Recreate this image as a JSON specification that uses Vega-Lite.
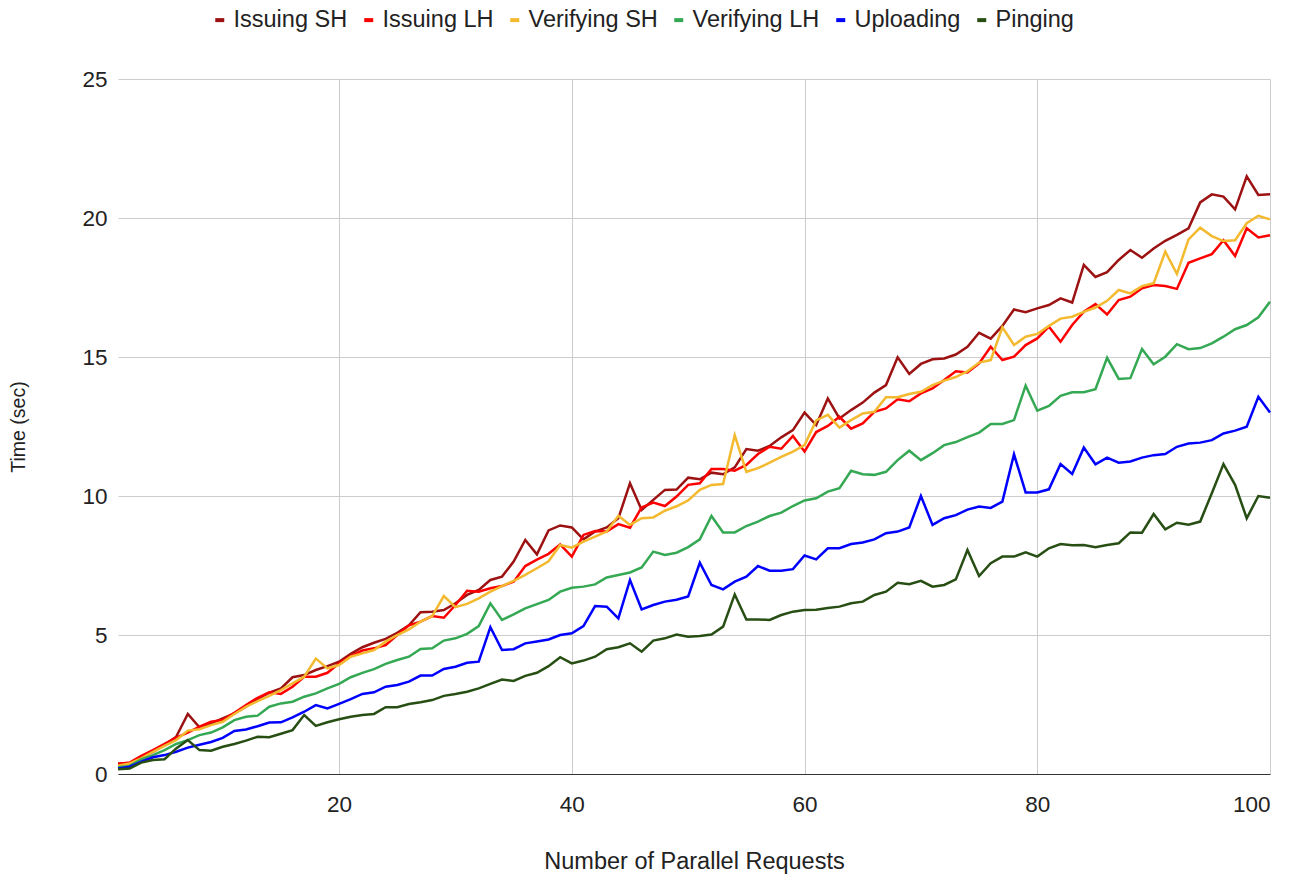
{"$schema":"https://vega.github.io/schema/vega-lite/v6.json","width":1152,"height":695,"autosize":{"type":"none"},"padding":{"left":118,"top":79,"right":30,"bottom":101},"background":"white","config":{"view":{"stroke":null},"font":"Liberation Sans"},
"data":{"values":[
{"x":1,"Issuing SH":0.38,"Issuing LH":0.36,"Verifying SH":0.3,"Verifying LH":0.24,"Uploading":0.2,"Pinging":0.17},
{"x":2,"Issuing SH":0.38,"Issuing LH":0.41,"Verifying SH":0.38,"Verifying LH":0.29,"Uploading":0.26,"Pinging":0.2},
{"x":3,"Issuing SH":0.62,"Issuing LH":0.65,"Verifying SH":0.56,"Verifying LH":0.53,"Uploading":0.44,"Pinging":0.41},
{"x":4,"Issuing SH":0.8,"Issuing LH":0.86,"Verifying SH":0.8,"Verifying LH":0.68,"Uploading":0.6,"Pinging":0.5},
{"x":5,"Issuing SH":1.04,"Issuing LH":1.08,"Verifying SH":1.01,"Verifying LH":0.86,"Uploading":0.68,"Pinging":0.53},
{"x":6,"Issuing SH":1.34,"Issuing LH":1.31,"Verifying SH":1.22,"Verifying LH":1.08,"Uploading":0.8,"Pinging":0.92},
{"x":7,"Issuing SH":2.16,"Issuing LH":1.49,"Verifying SH":1.56,"Verifying LH":1.22,"Uploading":0.95,"Pinging":1.22},
{"x":8,"Issuing SH":1.68,"Issuing LH":1.7,"Verifying SH":1.61,"Verifying LH":1.4,"Uploading":1.05,"Pinging":0.86},
{"x":9,"Issuing SH":1.82,"Issuing LH":1.88,"Verifying SH":1.76,"Verifying LH":1.49,"Uploading":1.15,"Pinging":0.84},
{"x":10,"Issuing SH":2.0,"Issuing LH":1.94,"Verifying SH":1.88,"Verifying LH":1.68,"Uploading":1.3,"Pinging":0.98},
{"x":11,"Issuing SH":2.18,"Issuing LH":2.2,"Verifying SH":2.16,"Verifying LH":1.94,"Uploading":1.55,"Pinging":1.08},
{"x":12,"Issuing SH":2.42,"Issuing LH":2.48,"Verifying SH":2.42,"Verifying LH":2.06,"Uploading":1.6,"Pinging":1.2},
{"x":13,"Issuing SH":2.7,"Issuing LH":2.74,"Verifying SH":2.62,"Verifying LH":2.1,"Uploading":1.72,"Pinging":1.34},
{"x":14,"Issuing SH":2.93,"Issuing LH":2.94,"Verifying SH":2.81,"Verifying LH":2.42,"Uploading":1.85,"Pinging":1.32},
{"x":15,"Issuing SH":3.08,"Issuing LH":2.88,"Verifying SH":3.02,"Verifying LH":2.54,"Uploading":1.86,"Pinging":1.45},
{"x":16,"Issuing SH":3.48,"Issuing LH":3.14,"Verifying SH":3.26,"Verifying LH":2.6,"Uploading":2.04,"Pinging":1.58},
{"x":17,"Issuing SH":3.56,"Issuing LH":3.5,"Verifying SH":3.5,"Verifying LH":2.78,"Uploading":2.24,"Pinging":2.12},
{"x":18,"Issuing SH":3.74,"Issuing LH":3.5,"Verifying SH":4.15,"Verifying LH":2.9,"Uploading":2.48,"Pinging":1.73},
{"x":19,"Issuing SH":3.88,"Issuing LH":3.64,"Verifying SH":3.8,"Verifying LH":3.08,"Uploading":2.36,"Pinging":1.86},
{"x":20,"Issuing SH":4.04,"Issuing LH":3.98,"Verifying SH":3.92,"Verifying LH":3.24,"Uploading":2.52,"Pinging":1.97},
{"x":21,"Issuing SH":4.32,"Issuing LH":4.24,"Verifying SH":4.22,"Verifying LH":3.48,"Uploading":2.69,"Pinging":2.06},
{"x":22,"Issuing SH":4.56,"Issuing LH":4.44,"Verifying SH":4.34,"Verifying LH":3.64,"Uploading":2.88,"Pinging":2.12},
{"x":23,"Issuing SH":4.72,"Issuing LH":4.52,"Verifying SH":4.46,"Verifying LH":3.77,"Uploading":2.94,"Pinging":2.16},
{"x":24,"Issuing SH":4.86,"Issuing LH":4.64,"Verifying SH":4.76,"Verifying LH":3.96,"Uploading":3.14,"Pinging":2.4},
{"x":25,"Issuing SH":5.08,"Issuing LH":5.0,"Verifying SH":5.0,"Verifying LH":4.1,"Uploading":3.2,"Pinging":2.4},
{"x":26,"Issuing SH":5.35,"Issuing LH":5.35,"Verifying SH":5.2,"Verifying LH":4.22,"Uploading":3.32,"Pinging":2.52},
{"x":27,"Issuing SH":5.82,"Issuing LH":5.48,"Verifying SH":5.48,"Verifying LH":4.5,"Uploading":3.54,"Pinging":2.58},
{"x":28,"Issuing SH":5.84,"Issuing LH":5.68,"Verifying SH":5.68,"Verifying LH":4.52,"Uploading":3.54,"Pinging":2.66},
{"x":29,"Issuing SH":5.9,"Issuing LH":5.62,"Verifying SH":6.4,"Verifying LH":4.8,"Uploading":3.78,"Pinging":2.81},
{"x":30,"Issuing SH":6.14,"Issuing LH":6.08,"Verifying SH":6.0,"Verifying LH":4.88,"Uploading":3.86,"Pinging":2.88},
{"x":31,"Issuing SH":6.44,"Issuing LH":6.59,"Verifying SH":6.12,"Verifying LH":5.04,"Uploading":4.0,"Pinging":2.96},
{"x":32,"Issuing SH":6.62,"Issuing LH":6.56,"Verifying SH":6.32,"Verifying LH":5.32,"Uploading":4.04,"Pinging":3.08},
{"x":33,"Issuing SH":6.98,"Issuing LH":6.68,"Verifying SH":6.56,"Verifying LH":6.14,"Uploading":5.28,"Pinging":3.24},
{"x":34,"Issuing SH":7.1,"Issuing LH":6.76,"Verifying SH":6.76,"Verifying LH":5.54,"Uploading":4.46,"Pinging":3.4},
{"x":35,"Issuing SH":7.64,"Issuing LH":6.92,"Verifying SH":6.95,"Verifying LH":5.74,"Uploading":4.49,"Pinging":3.35},
{"x":36,"Issuing SH":8.42,"Issuing LH":7.48,"Verifying SH":7.16,"Verifying LH":5.96,"Uploading":4.7,"Pinging":3.53},
{"x":37,"Issuing SH":7.9,"Issuing LH":7.71,"Verifying SH":7.4,"Verifying LH":6.11,"Uploading":4.77,"Pinging":3.64},
{"x":38,"Issuing SH":8.76,"Issuing LH":7.92,"Verifying SH":7.65,"Verifying LH":6.26,"Uploading":4.84,"Pinging":3.88},
{"x":39,"Issuing SH":8.94,"Issuing LH":8.26,"Verifying SH":8.24,"Verifying LH":6.56,"Uploading":5.0,"Pinging":4.2},
{"x":40,"Issuing SH":8.87,"Issuing LH":7.82,"Verifying SH":8.14,"Verifying LH":6.7,"Uploading":5.06,"Pinging":3.98},
{"x":41,"Issuing SH":8.44,"Issuing LH":8.6,"Verifying SH":8.36,"Verifying LH":6.74,"Uploading":5.32,"Pinging":4.08},
{"x":42,"Issuing SH":8.72,"Issuing LH":8.74,"Verifying SH":8.54,"Verifying LH":6.82,"Uploading":6.04,"Pinging":4.22},
{"x":43,"Issuing SH":8.87,"Issuing LH":8.72,"Verifying SH":8.72,"Verifying LH":7.07,"Uploading":6.02,"Pinging":4.49},
{"x":44,"Issuing SH":9.2,"Issuing LH":8.99,"Verifying SH":9.29,"Verifying LH":7.16,"Uploading":5.6,"Pinging":4.56},
{"x":45,"Issuing SH":10.46,"Issuing LH":8.86,"Verifying SH":8.96,"Verifying LH":7.25,"Uploading":6.98,"Pinging":4.7},
{"x":46,"Issuing SH":9.5,"Issuing LH":9.59,"Verifying SH":9.2,"Verifying LH":7.43,"Uploading":5.92,"Pinging":4.4},
{"x":47,"Issuing SH":9.86,"Issuing LH":9.76,"Verifying SH":9.23,"Verifying LH":8.0,"Uploading":6.08,"Pinging":4.8},
{"x":48,"Issuing SH":10.22,"Issuing LH":9.64,"Verifying SH":9.47,"Verifying LH":7.88,"Uploading":6.2,"Pinging":4.88},
{"x":49,"Issuing SH":10.23,"Issuing LH":9.98,"Verifying SH":9.63,"Verifying LH":7.96,"Uploading":6.27,"Pinging":5.02},
{"x":50,"Issuing SH":10.66,"Issuing LH":10.4,"Verifying SH":9.84,"Verifying LH":8.16,"Uploading":6.39,"Pinging":4.94},
{"x":51,"Issuing SH":10.6,"Issuing LH":10.46,"Verifying SH":10.22,"Verifying LH":8.44,"Uploading":7.6,"Pinging":4.96},
{"x":52,"Issuing SH":10.84,"Issuing LH":10.97,"Verifying SH":10.4,"Verifying LH":9.28,"Uploading":6.8,"Pinging":5.02},
{"x":53,"Issuing SH":10.78,"Issuing LH":10.97,"Verifying SH":10.43,"Verifying LH":8.69,"Uploading":6.64,"Pinging":5.3},
{"x":54,"Issuing SH":11.03,"Issuing LH":10.91,"Verifying SH":12.19,"Verifying LH":8.69,"Uploading":6.92,"Pinging":6.46},
{"x":55,"Issuing SH":11.69,"Issuing LH":11.12,"Verifying SH":10.87,"Verifying LH":8.92,"Uploading":7.1,"Pinging":5.56},
{"x":56,"Issuing SH":11.63,"Issuing LH":11.51,"Verifying SH":11.0,"Verifying LH":9.08,"Uploading":7.48,"Pinging":5.56},
{"x":57,"Issuing SH":11.8,"Issuing LH":11.77,"Verifying SH":11.2,"Verifying LH":9.28,"Uploading":7.31,"Pinging":5.54},
{"x":58,"Issuing SH":12.11,"Issuing LH":11.7,"Verifying SH":11.41,"Verifying LH":9.4,"Uploading":7.31,"Pinging":5.72},
{"x":59,"Issuing SH":12.37,"Issuing LH":12.16,"Verifying SH":11.6,"Verifying LH":9.64,"Uploading":7.37,"Pinging":5.84},
{"x":60,"Issuing SH":13.0,"Issuing LH":11.6,"Verifying SH":11.83,"Verifying LH":9.84,"Uploading":7.86,"Pinging":5.9},
{"x":61,"Issuing SH":12.55,"Issuing LH":12.3,"Verifying SH":12.72,"Verifying LH":9.92,"Uploading":7.72,"Pinging":5.91},
{"x":62,"Issuing SH":13.51,"Issuing LH":12.52,"Verifying SH":12.92,"Verifying LH":10.16,"Uploading":8.12,"Pinging":5.97},
{"x":63,"Issuing SH":12.79,"Issuing LH":12.85,"Verifying SH":12.46,"Verifying LH":10.28,"Uploading":8.12,"Pinging":6.02},
{"x":64,"Issuing SH":13.09,"Issuing LH":12.42,"Verifying SH":12.73,"Verifying LH":10.91,"Uploading":8.27,"Pinging":6.14},
{"x":65,"Issuing SH":13.36,"Issuing LH":12.61,"Verifying SH":12.97,"Verifying LH":10.78,"Uploading":8.33,"Pinging":6.2},
{"x":66,"Issuing SH":13.72,"Issuing LH":13.03,"Verifying SH":13.03,"Verifying LH":10.76,"Uploading":8.44,"Pinging":6.44},
{"x":67,"Issuing SH":13.99,"Issuing LH":13.15,"Verifying SH":13.55,"Verifying LH":10.87,"Uploading":8.66,"Pinging":6.56},
{"x":68,"Issuing SH":14.99,"Issuing LH":13.48,"Verifying SH":13.55,"Verifying LH":11.29,"Uploading":8.72,"Pinging":6.88},
{"x":69,"Issuing SH":14.39,"Issuing LH":13.41,"Verifying SH":13.67,"Verifying LH":11.63,"Uploading":8.87,"Pinging":6.83},
{"x":70,"Issuing SH":14.75,"Issuing LH":13.69,"Verifying SH":13.75,"Verifying LH":11.29,"Uploading":10.0,"Pinging":6.95},
{"x":71,"Issuing SH":14.92,"Issuing LH":13.87,"Verifying SH":13.99,"Verifying LH":11.54,"Uploading":8.96,"Pinging":6.74},
{"x":72,"Issuing SH":14.95,"Issuing LH":14.17,"Verifying SH":14.15,"Verifying LH":11.83,"Uploading":9.2,"Pinging":6.8},
{"x":73,"Issuing SH":15.09,"Issuing LH":14.49,"Verifying SH":14.28,"Verifying LH":11.94,"Uploading":9.31,"Pinging":7.0},
{"x":74,"Issuing SH":15.37,"Issuing LH":14.44,"Verifying SH":14.49,"Verifying LH":12.12,"Uploading":9.51,"Pinging":8.06},
{"x":75,"Issuing SH":15.87,"Issuing LH":14.77,"Verifying SH":14.8,"Verifying LH":12.28,"Uploading":9.62,"Pinging":7.12},
{"x":76,"Issuing SH":15.66,"Issuing LH":15.37,"Verifying SH":14.89,"Verifying LH":12.59,"Uploading":9.57,"Pinging":7.58},
{"x":77,"Issuing SH":16.12,"Issuing LH":14.89,"Verifying SH":16.07,"Verifying LH":12.59,"Uploading":9.8,"Pinging":7.82},
{"x":78,"Issuing SH":16.71,"Issuing LH":15.01,"Verifying SH":15.43,"Verifying LH":12.73,"Uploading":11.5,"Pinging":7.82},
{"x":79,"Issuing SH":16.61,"Issuing LH":15.43,"Verifying SH":15.73,"Verifying LH":13.97,"Uploading":10.13,"Pinging":7.97},
{"x":80,"Issuing SH":16.75,"Issuing LH":15.67,"Verifying SH":15.83,"Verifying LH":13.07,"Uploading":10.13,"Pinging":7.82},
{"x":81,"Issuing SH":16.87,"Issuing LH":16.09,"Verifying SH":16.12,"Verifying LH":13.24,"Uploading":10.24,"Pinging":8.12},
{"x":82,"Issuing SH":17.11,"Issuing LH":15.55,"Verifying SH":16.38,"Verifying LH":13.6,"Uploading":11.15,"Pinging":8.27},
{"x":83,"Issuing SH":16.96,"Issuing LH":16.15,"Verifying SH":16.45,"Verifying LH":13.73,"Uploading":10.79,"Pinging":8.23},
{"x":84,"Issuing SH":18.31,"Issuing LH":16.63,"Verifying SH":16.62,"Verifying LH":13.73,"Uploading":11.74,"Pinging":8.24},
{"x":85,"Issuing SH":17.88,"Issuing LH":16.9,"Verifying SH":16.78,"Verifying LH":13.84,"Uploading":11.14,"Pinging":8.16},
{"x":86,"Issuing SH":18.05,"Issuing LH":16.53,"Verifying SH":17.02,"Verifying LH":14.97,"Uploading":11.38,"Pinging":8.24},
{"x":87,"Issuing SH":18.49,"Issuing LH":17.05,"Verifying SH":17.41,"Verifying LH":14.21,"Uploading":11.2,"Pinging":8.3},
{"x":88,"Issuing SH":18.85,"Issuing LH":17.17,"Verifying SH":17.29,"Verifying LH":14.24,"Uploading":11.24,"Pinging":8.69},
{"x":89,"Issuing SH":18.57,"Issuing LH":17.47,"Verifying SH":17.55,"Verifying LH":15.29,"Uploading":11.38,"Pinging":8.68},
{"x":90,"Issuing SH":18.9,"Issuing LH":17.59,"Verifying SH":17.65,"Verifying LH":14.74,"Uploading":11.47,"Pinging":9.35},
{"x":91,"Issuing SH":19.18,"Issuing LH":17.55,"Verifying SH":18.79,"Verifying LH":15.01,"Uploading":11.51,"Pinging":8.8},
{"x":92,"Issuing SH":19.39,"Issuing LH":17.45,"Verifying SH":17.99,"Verifying LH":15.46,"Uploading":11.77,"Pinging":9.04},
{"x":93,"Issuing SH":19.63,"Issuing LH":18.39,"Verifying SH":19.23,"Verifying LH":15.28,"Uploading":11.89,"Pinging":8.97},
{"x":94,"Issuing SH":20.56,"Issuing LH":18.55,"Verifying SH":19.65,"Verifying LH":15.32,"Uploading":11.92,"Pinging":9.08},
{"x":95,"Issuing SH":20.85,"Issuing LH":18.7,"Verifying SH":19.35,"Verifying LH":15.49,"Uploading":12.01,"Pinging":10.1},
{"x":96,"Issuing SH":20.77,"Issuing LH":19.2,"Verifying SH":19.17,"Verifying LH":15.73,"Uploading":12.25,"Pinging":11.15},
{"x":97,"Issuing SH":20.31,"Issuing LH":18.63,"Verifying SH":19.2,"Verifying LH":16.0,"Uploading":12.35,"Pinging":10.4},
{"x":98,"Issuing SH":21.5,"Issuing LH":19.63,"Verifying SH":19.81,"Verifying LH":16.15,"Uploading":12.49,"Pinging":9.2},
{"x":99,"Issuing SH":20.83,"Issuing LH":19.3,"Verifying SH":20.08,"Verifying LH":16.43,"Uploading":13.57,"Pinging":10.0},
{"x":100,"Issuing SH":20.85,"Issuing LH":19.38,"Verifying SH":19.95,"Verifying LH":16.99,"Uploading":13.0,"Pinging":9.94}
]},
"transform":[{"fold":["Issuing SH","Issuing LH","Verifying SH","Verifying LH","Uploading","Pinging"],"as":["series","value"]}],
"mark":{"type":"line","strokeWidth":2.5},
"encoding":{
"x":{"field":"x","type":"quantitative","scale":{"domain":[1,100],"nice":false,"zero":false},"axis":{"title":"Number of Parallel Requests","values":[20,40,60,80,100],"grid":true,"gridColor":"#cccccc","ticks":false,"domainColor":"#333333","labelFontSize":22.5,"labelColor":"#222222","labelPadding":19,"titleFontSize":23.5,"titleFontWeight":"normal","titleColor":"#222222","titleY":87,"titleBaseline":"middle"}},
"y":{"field":"value","type":"quantitative","scale":{"domain":[0,25],"nice":false},"axis":{"title":"Time (sec)","values":[0,5,10,15,20,25],"grid":true,"gridColor":"#cccccc","ticks":false,"domain":false,"labelFontSize":22.5,"labelColor":"#222222","labelPadding":11,"titleFontSize":19.5,"titleFontWeight":"normal","titleColor":"#222222","titleX":-100,"titleBaseline":"middle"}},
"color":{"field":"series","type":"nominal","sort":null,"scale":{"domain":["Issuing SH","Issuing LH","Verifying SH","Verifying LH","Uploading","Pinging"],"range":["#9c1111","#ff0000","#f3b92f","#34a853","#0000ff","#274e13"]},"legend":{"title":null,"orient":"none","legendX":90,"legendY":-71,"direction":"horizontal","columns":6,"symbolType":"stroke","symbolSize":81,"symbolStrokeWidth":4,"labelFontSize":23.5,"labelColor":"#222222","labelOffset":2,"columnPadding":8}}
}}
